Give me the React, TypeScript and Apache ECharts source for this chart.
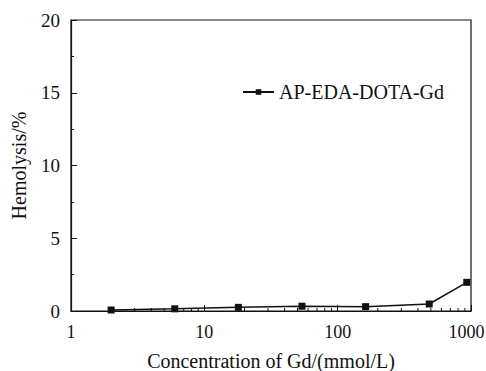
import React, { useEffect, useRef } from "react";
import * as echarts from "echarts";

const concentrations = [2, 6, 18, 54, 162, 486, 930];
const hemolysis = [0.07, 0.15, 0.25, 0.33, 0.3, 0.48, 1.97];
const logMinorTicks = [2, 3, 4, 5, 6, 7, 8, 9, 20, 30, 40, 50, 60, 70, 80, 90, 200, 300, 400, 500, 600, 700, 800, 900];
const seriesName = "AP-EDA-DOTA-Gd";
const font = "'Liberation Serif', 'Times New Roman', serif";

export default function App() {
  const ref = useRef<HTMLDivElement>(null);
  useEffect(() => {
    const chart = echarts.init(ref.current!, null, { renderer: "svg" });
    chart.setOption({
      animation: false,
      backgroundColor: "#fff",
      textStyle: { fontFamily: font, color: "#111" },
      grid: {
        left: 71, right: 15, top: 20, bottom: 60,
        outerBoundsMode: "none", containLabel: false,
        show: true, borderColor: "#111", borderWidth: 1.2,
      },
      legend: {
        data: [seriesName],
        left: 237,
        top: 77,
        itemWidth: 31,
        itemHeight: 7,
        itemGap: 6,
        textStyle: { fontFamily: font, fontSize: 20, color: "#111" },
      },
      xAxis: {
        type: "log",
        logBase: 10,
        min: 1,
        max: 1000,
        name: "Concentration of Gd/(mmol/L)",
        nameLocation: "middle",
        nameGap: 40,
        nameTextStyle: { fontFamily: font, fontSize: 20, color: "#111" },
        axisLine: { lineStyle: { color: "#111", width: 1.2 } },
        axisTick: { inside: true, length: 6, lineStyle: { color: "#111" } },
        axisLabel: {
          fontFamily: font,
          fontSize: 18,
          color: "#111",
          margin: 12,
          formatter: (v: number) => {
            const s = String(Math.round(v));
            return v >= 999 ? "{last|" + s + "}" : s;
          },
          rich: { last: { fontFamily: font, fontSize: 18, color: "#111", padding: [0, 9, 0, 0] } },
        },
        splitLine: { show: false },
      },
      yAxis: {
        type: "value",
        min: 0,
        max: 20,
        interval: 5,
        name: "Hemolysis/%",
        nameLocation: "middle",
        nameGap: 42,
        nameTextStyle: { fontFamily: font, fontSize: 20, color: "#111" },
        axisLine: { lineStyle: { color: "#111", width: 1.2 } },
        axisTick: { inside: true, length: 6, lineStyle: { color: "#111" } },
        minorTick: { show: true, splitNumber: 2, length: 3, lineStyle: { color: "#111" } },
        axisLabel: { fontFamily: font, fontSize: 19, color: "#111", margin: 11 },
        splitLine: { show: false },
      },
      series: [
        {
          name: seriesName,
          type: "line",
          data: concentrations.map((c, i) => [c, hemolysis[i]]),
          symbol: "rect",
          symbolSize: 7,
          lineStyle: { color: "#111", width: 1.5 },
          itemStyle: { color: "#111" },
          z: 5,
        },
        {
          name: "minorTicks",
          type: "custom",
          silent: true,
          clip: false,
          data: logMinorTicks.map((v) => [v, 0]),
          renderItem: (params: any, api: any) => {
            const p = api.coord([api.value(0), 0]);
            return {
              type: "line",
              shape: { x1: p[0], y1: p[1], x2: p[0], y2: p[1] - 3 },
              style: { stroke: "#111", lineWidth: 1 },
            };
          },
          z: 3,
        },
      ],
    });
    return () => chart.dispose();
  }, []);
  return <div ref={ref} style={{ position: "fixed", left: 0, top: 0, width: 486, height: 371 }} />;
}
